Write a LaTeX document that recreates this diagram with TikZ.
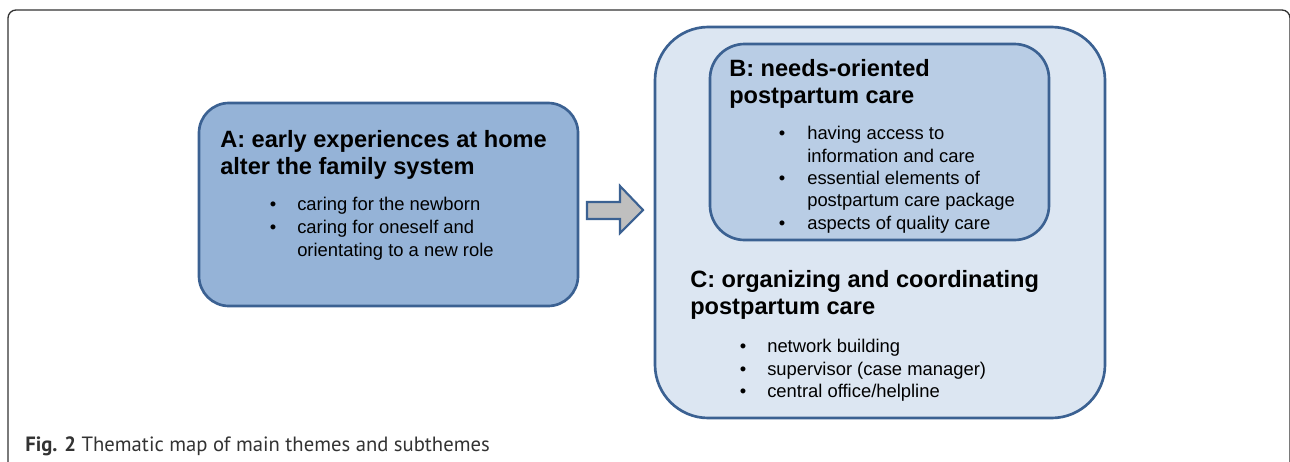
\documentclass[tikz,border=0pt]{standalone}
\usepackage{fontspec}
\setmainfont{Liberation Sans}
\newfontfamily\capfont{PT Sans}
\definecolor{edgeblue}{HTML}{3B6192}
\definecolor{afill}{HTML}{95B3D7}
\definecolor{bfill}{HTML}{B9CDE5}
\definecolor{cfill}{HTML}{DCE6F2}
\definecolor{arrowfill}{HTML}{BFBFBF}
\definecolor{framegray}{HTML}{333333}
\tikzset{
  themebox/.style={draw=edgeblue, line width=2pt},
  ttl/.style={anchor=base west, inner sep=0pt, font=\fontsize{17.7}{20}\selectfont\bfseries},
  itm/.style={anchor=base west, inner sep=0pt, font=\fontsize{13.8}{16}\selectfont},
  bul/.style={anchor=base, inner sep=0pt, font=\fontsize{13.8}{16}\selectfont},
  captext/.style={anchor=base west, inner sep=0pt, font=\capfont\fontsize{15.5}{18}\selectfont, text=framegray}
}
\begin{document}
\begin{tikzpicture}[x=0.75pt,y=-0.75pt]
\useasboundingbox (0,0) rectangle (1290,461);
\clip (0,0) rectangle (1290,461);
% frame
\draw[framegray, line width=1pt, rounded corners=6pt] (8,480) -- (8,10) -- (1290,10) -- (1290,480);
% box A
\draw[themebox, fill=afill, rounded corners=22.5pt] (199,103) rectangle (578,306);
\node[ttl] (a1) at (220,147) {A: early experiences at home};
\node[ttl] (a2) at (220,174) {alter the family system};
\node[bul] (ab1) at (273,210) {•};
\node[itm] (ai1) at (297,210) {caring for the newborn};
\node[bul] (ab2) at (273,233) {•};
\node[itm] (ai2) at (297,233) {caring for oneself and};
\node[itm] (ai3) at (297,256) {orientating to a new role};
% arrow
\draw[themebox, line width=1.6pt, fill=arrowfill, line join=miter] (587,202) -- (620,202) -- (620,186) -- (643,210) -- (620,233) -- (620,219) -- (587,219) -- cycle;
% box C
\draw[themebox, fill=cfill, rounded corners=40pt] (655,27) rectangle (1105,418);
% box B
\draw[themebox, fill=bfill, rounded corners=26pt] (710,44) rectangle (1049,240);
\node[ttl] (b1) at (729,76) {B: needs-oriented};
\node[ttl] (b2) at (729,103) {postpartum care};
\node[bul] (bb1) at (782,139) {•};
\node[itm] (bi1) at (807,139) {having access to};
\node[itm] (bi2) at (807,162) {information and care};
\node[bul] (bb2) at (782,184) {•};
\node[itm] (bi3) at (807,184) {essential elements of};
\node[itm] (bi4) at (807,206) {postpartum care package};
\node[bul] (bb3) at (782,229) {•};
\node[itm] (bi5) at (807,229) {aspects of quality care};
% C text
\node[ttl] (c1) at (690,287) {C: organizing and coordinating};
\node[ttl] (c2) at (690,314) {postpartum care};
\node[bul] (cb1) at (743,352) {•};
\node[itm] (ci1) at (767,352) {network building};
\node[bul] (cb2) at (743,375) {•};
\node[itm] (ci2) at (767,375) {supervisor (case manager)};
\node[bul] (cb3) at (743,397) {•};
\node[itm] (ci3) at (767,397) {central office/helpline};
% caption
\node[captext] (capt) at (25,451) {\textbf{Fig. 2} Thematic map of main themes and subthemes};
\end{tikzpicture}
\end{document}
